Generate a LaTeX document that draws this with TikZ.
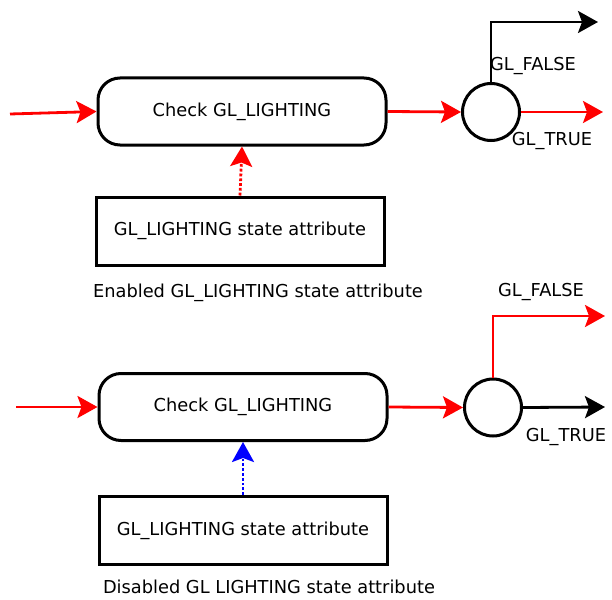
\documentclass[tikz,border=0pt]{standalone}
\usepackage{fontspec}
\setmainfont{DejaVu Sans}
\usetikzlibrary{arrows.meta,positioning}
\tikzset{
  x=1pt,y=-1pt,
  every node/.style={font=\fontsize{17.8}{20}\selectfont},
  checkbox/.style={draw,line width=3pt,rounded corners=22pt,minimum width=288pt,minimum height=67pt,inner sep=0pt},
  attrbox/.style={draw,line width=3pt,minimum width=288pt,minimum height=68pt,inner sep=0pt},
  decide/.style={draw,circle,line width=3pt,minimum size=57pt,inner sep=0pt},
  tip/.style={-{Stealth[length=20pt,width=22pt,inset=4pt]}},
  flow/.style={line width=2.8pt,tip},
  dots/.style={line width=2.8pt,dotted,tip},
  plain/.style={inner sep=0pt}
}
\begin{document}
\begin{tikzpicture}
\useasboundingbox (0,0) rectangle (612,599);
% top block
\node[checkbox] (c1) at (242,111.5) {Check GL\_LIGHTING};
\node[attrbox] (a1) at (240,231) {GL\_LIGHTING state attribute};
\node[decide] (d1) at (491,112) {};
\node[plain] (cap1) at (258,293) {Enabled GL\_LIGHTING state attribute};
\node[plain] (f1) at (533,66) {GL\_FALSE};
\node[plain] (t1) at (552,141) {GL\_TRUE};
\coordinate (in1) at (10,114);
\coordinate (o1t) at (603,112);
\coordinate (o1f) at (598,22);
\draw[flow,red] (in1) -- (c1.west);
\draw[flow,red] (c1.east) -- (d1.west);
\draw[flow,red] (d1.east) -- (o1t);
\draw[flow,black] (d1.north) |- (o1f);
\draw[dots,red] (a1.north) -- (c1.south);
% bottom block
\node[checkbox] (c2) at (243,407) {Check GL\_LIGHTING};
\node[attrbox] (a2) at (243,530.5) {GL\_LIGHTING state attribute};
\node[decide] (d2) at (493,407.5) {};
\node[plain] (cap2) at (269,587) {Disabled GL LIGHTING state attribute};
\node[plain] (f2) at (541,292) {GL\_FALSE};
\node[plain] (t2) at (566,437) {GL\_TRUE};
\coordinate (in2) at (16,407);
\coordinate (o2t) at (605,407);
\coordinate (o2f) at (605,316);
\draw[flow,red] (in2) -- (c2.west);
\draw[flow,red] (c2.east) -- (d2.west);
\draw[flow,black] (d2.east) -- (o2t);
\draw[flow,red] (d2.north) |- (o2f);
\draw[dots,blue] (a2.north) -- (c2.south);
\end{tikzpicture}
\end{document}
